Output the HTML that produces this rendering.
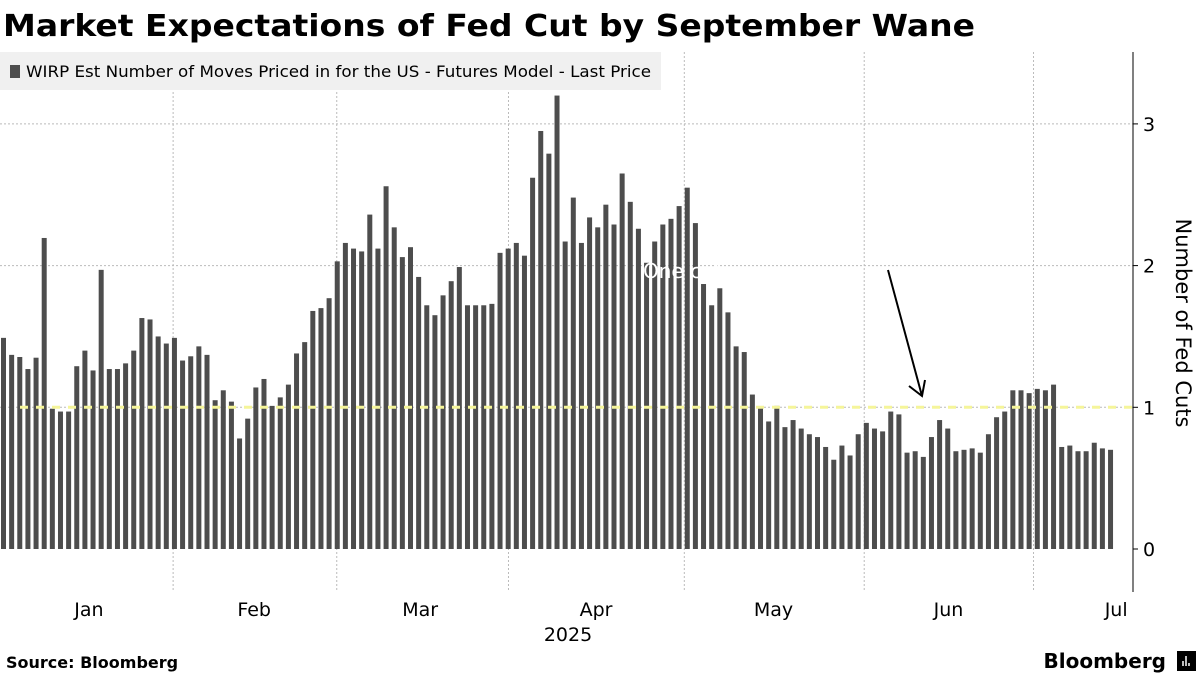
<!DOCTYPE html>
<html><head><meta charset="utf-8"><style>
body{margin:0;background:#fff;width:1200px;height:675px;overflow:hidden;font-family:"DejaVu Sans","Liberation Sans",sans-serif}
svg text{font-family:"DejaVu Sans","Liberation Sans",sans-serif}
</style></head><body>
<svg id="chart" width="1200" height="675" xmlns="http://www.w3.org/2000/svg">
<text x="3" y="36" font-size="30" font-weight="bold" fill="#000" textLength="972" lengthAdjust="spacingAndGlyphs">Market Expectations of Fed Cut by September Wane</text>
<g id="grid"></g>
<g id="bars"></g>
<g id="overlay"></g>
<rect x="0" y="52" width="661" height="38" fill="#f0f0f0"/>
<rect x="10" y="65" width="10" height="13" fill="#4d4d4d"/>
<text x="26" y="77" font-size="16" fill="#000" textLength="625" lengthAdjust="spacingAndGlyphs">WIRP Est Number of Moves Priced in for the US - Futures Model - Last Price</text>
<g id="axis"></g>
<text x="0" y="0" font-size="21" fill="#000" transform="translate(1176,323) rotate(90)" text-anchor="middle">Number of Fed Cuts</text>
<text x="568" y="641" font-size="19" text-anchor="middle" fill="#000">2025</text>
<text x="6" y="668" font-size="16" font-weight="bold" fill="#000">Source: Bloomberg</text>
<text x="1166" y="668" font-size="20" font-weight="bold" fill="#000" text-anchor="end">Bloomberg</text>
<rect x="1177" y="651" width="19" height="20" fill="#000"/>
<path d="M1183 666 V661 M1186 666 V656 M1189 666 V663" stroke="#fff" stroke-width="1.5"/>
</svg>
<script>
const values=[1.49,1.37,1.355,1.27,1.35,2.195,0.99,0.97,0.97,1.29,1.40,1.26,1.97,1.27,1.27,1.31,1.40,1.63,1.62,1.50,1.45,1.49,1.33,1.36,1.43,1.37,1.05,1.12,1.04,0.78,0.92,1.14,1.20,1.01,1.07,1.16,1.38,1.46,1.68,1.70,1.77,2.03,2.16,2.12,2.10,2.36,2.12,2.56,2.27,2.06,2.13,1.92,1.72,1.65,1.79,1.89,1.99,1.72,1.72,1.72,1.73,2.09,2.12,2.16,2.07,2.62,2.95,2.79,3.20,2.17,2.48,2.16,2.34,2.27,2.43,2.29,2.65,2.45,2.26,2.02,2.17,2.29,2.33,2.42,2.55,2.30,1.87,1.72,1.84,1.67,1.43,1.39,1.09,1.00,0.90,1.01,0.86,0.91,0.85,0.81,0.79,0.72,0.63,0.73,0.66,0.81,0.89,0.85,0.83,0.97,0.95,0.68,0.69,0.65,0.79,0.91,0.85,0.69,0.70,0.71,0.68,0.81,0.93,0.97,1.12,1.12,1.10,1.13,1.12,1.16,0.72,0.73,0.69,0.69,0.75,0.71,0.70];
const monthLabels=["Jan","Feb","Mar","Apr","May","Jun","Jul"];
const monthLabelIdx=[10.8,31.1,51.5,73.1,94.9,116.4,137];
const monthGridIdx=[20.9,41.0,62.1,83.7,105.8,126.6];
const yTicks=[0,1,2,3];
const refValue=1;
const NS="http://www.w3.org/2000/svg";
const X0=1,PITCH=8.14,BW=5,Y0=549,YS=141.7,AXX=1133;
const xs=i=>X0+PITCH*i, ys=v=>Y0-v*YS;
function mk(t,a,p){const e=document.createElementNS(NS,t);for(const k in a)e.setAttribute(k,a[k]);p.appendChild(e);return e;}
const grid=document.getElementById('grid'),bars=document.getElementById('bars'),ov=document.getElementById('overlay'),ax=document.getElementById('axis');
yTicks.forEach(v=>{if(v===0)return;const l=mk('line',{x1:0,x2:AXX,y1:ys(v),y2:ys(v),stroke:'#bbb','stroke-dasharray':'2,2','stroke-width':1},grid);

});
monthGridIdx.forEach(i=>{const l=mk('line',{x1:xs(i)+2,x2:xs(i)+2,y1:52,y2:592,stroke:'#bbb','stroke-dasharray':'2,2','stroke-width':1},grid);

});
values.forEach((v,i)=>{const r=mk('rect',{x:xs(i),y:ys(v),width:BW,height:Y0-ys(v),fill:'#4d4d4d'},bars);

});
const rl=mk('line',{x1:20,x2:AXX,y1:ys(refValue),y2:ys(refValue),stroke:'#f5f59a','stroke-width':3,'stroke-dasharray':'8,8'},ov);


const ot=mk('text',{x:643,y:278,'font-size':20,fill:'#fff'},ov);ot.textContent='One cut';


const ar=mk('path',{d:'M888 270 L922 396 M909 386 L922 396 L925 380',stroke:'#000','stroke-width':2,fill:'none'},ov);


const al=mk('line',{x1:AXX,x2:AXX,y1:52,y2:592,stroke:'#000','stroke-width':1},ax);


yTicks.forEach(v=>{mk('line',{x1:AXX,x2:AXX+5,y1:ys(v),y2:ys(v),stroke:'#000'},ax);
const t=mk('text',{x:1149,y:ys(v)+7,'font-size':19,fill:'#000','text-anchor':'middle'},ax);t.textContent=v;

});
monthLabels.forEach((m,k)=>{const t=mk('text',{x:xs(monthLabelIdx[k]),y:616,'font-size':19,fill:'#000','text-anchor':'middle'},ax);t.textContent=m;

});
</script>
</body></html>
